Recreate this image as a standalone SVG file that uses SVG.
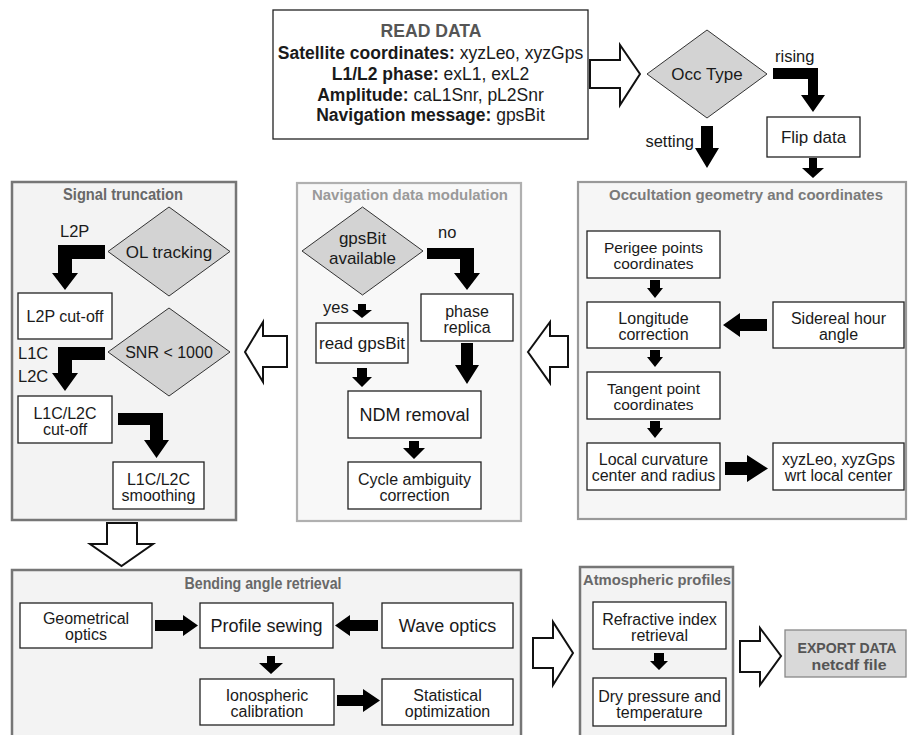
<svg xmlns="http://www.w3.org/2000/svg" width="908" height="735" viewBox="0 0 908 735">
<style>
text{font-family:"Liberation Sans",Arial,sans-serif;fill:#1a1a1a}
.box{fill:#fff;stroke:#222;stroke-width:1.3}
.dia{fill:#d3d3d3;stroke:#333;stroke-width:1}
.panel{fill:#f3f3f3;stroke:#767676;stroke-width:2.5}
.panel2{fill:#f8f8f8;stroke:#b0b0b0;stroke-width:2.2}
.panel3{fill:#f6f6f6;stroke:#999;stroke-width:2.2}
.arr{fill:#000}
.open{fill:#fff;stroke:#111;stroke-width:2}
.m{text-anchor:middle}
.s15{font-size:15.5px}
.s16{font-size:16px}
.s17{font-size:17px}
.s18{font-size:18px}
.ttl{font-weight:bold;fill:#686868;text-anchor:middle}
.lbl{font-size:16.5px}
</style>
<rect width="908" height="735" fill="#fff"/>

<!-- panels -->
<g id="panel-signal"><rect class="panel" x="12" y="182" width="224" height="338"/><text class="ttl" x="123" y="200" font-size="16" textLength="120" lengthAdjust="spacingAndGlyphs">Signal truncation</text></g>
<g id="panel-ndm"><rect class="panel2" x="297" y="183" width="224" height="338"/><text class="ttl" x="410" y="200" font-size="15.5" textLength="196" lengthAdjust="spacingAndGlyphs" style="fill:#9a9a9a">Navigation data modulation</text></g>
<g id="panel-occ"><rect class="panel3" x="578" y="182" width="328" height="337"/><text class="ttl" x="746" y="200" font-size="15" textLength="274" lengthAdjust="spacingAndGlyphs" style="fill:#7a7a7a">Occultation geometry and coordinates</text></g>
<g id="panel-bend"><rect class="panel" x="12" y="570" width="509" height="175"/><text class="ttl" x="263" y="589" font-size="16" textLength="157" lengthAdjust="spacingAndGlyphs">Bending angle retrieval</text></g>
<g id="panel-atm"><rect class="panel" x="580" y="567" width="153" height="178"/><text class="ttl" x="657" y="585" font-size="14.5" textLength="148" lengthAdjust="spacingAndGlyphs">Atmospheric profiles</text></g>

<!-- nodes -->
<g id="read-data"><rect class="box" x="273" y="10" width="315" height="129"/>
<text class="m" x="431" y="37" font-size="17.5" font-weight="bold" style="fill:#555" textLength="101" lengthAdjust="spacingAndGlyphs">READ DATA</text>
<text class="m" x="430.5" y="59" font-size="17.5"><tspan font-weight="bold">Satellite coordinates:</tspan> xyzLeo, xyzGps</text>
<text class="m" x="430.5" y="80" font-size="17.5"><tspan font-weight="bold">L1/L2 phase:</tspan> exL1, exL2</text>
<text class="m" x="430.5" y="101" font-size="17.5"><tspan font-weight="bold">Amplitude:</tspan> caL1Snr, pL2Snr</text>
<text class="m" x="430.5" y="121" font-size="17.5"><tspan font-weight="bold">Navigation message:</tspan> gpsBit</text></g>

<g id="occ-type"><polygon class="dia" points="647,74 707,30 767,74 707,118"/><text class="m s17" x="707" y="80">Occ Type</text></g>
<g id="flip-data"><rect class="box" x="767" y="117" width="93" height="40"/><text class="m s17" x="813.5" y="143">Flip data</text></g>

<g id="ol-tracking"><polygon class="dia" points="108,251.5 169,207 230,251.5 169,296"/><text class="m s17" x="169" y="257.5">OL tracking</text></g>
<g id="l2p-cutoff"><rect class="box" x="18" y="293" width="94" height="46"/><text class="m s16" x="65" y="322">L2P cut-off</text></g>
<g id="snr"><polygon class="dia" points="108,352 169,308 230,352 169,396"/><text class="m s16" x="169" y="358">SNR &lt; 1000</text></g>
<g id="l1c-cutoff"><rect class="box" x="18" y="396" width="94" height="47"/><text class="m s16" x="65" y="419">L1C/L2C</text><text class="m s16" x="65" y="435">cut-off</text></g>
<g id="l1c-smooth"><rect class="box" x="113" y="462" width="91" height="47"/><text class="m s16" x="158.5" y="485">L1C/L2C</text><text class="m s16" x="158.5" y="501">smoothing</text></g>

<g id="gpsbit-avail"><polygon class="dia" points="302,251 362.5,207 423,251 362.5,295"/><text class="m s17" x="362.5" y="244">gpsBit</text><text class="m s17" x="362.5" y="264">available</text></g>
<g id="phase-replica"><rect class="box" x="421" y="294" width="92" height="47"/><text class="m s16" x="467" y="317">phase</text><text class="m s16" x="467" y="333">replica</text></g>
<g id="read-gpsbit"><rect class="box" x="316" y="323" width="92" height="40"/><text class="m s17" x="362" y="349">read gpsBit</text></g>
<g id="ndm-removal"><rect class="box" x="348" y="391" width="133" height="47"/><text class="m s18" x="414.5" y="421">NDM removal</text></g>
<g id="cycle-amb"><rect class="box" x="348" y="462" width="133" height="47"/><text class="m s16" x="414.5" y="485">Cycle ambiguity</text><text class="m s16" x="414.5" y="501">correction</text></g>

<g id="perigee"><rect class="box" x="587" y="231" width="133" height="47"/><text class="m s15" x="653.5" y="253">Perigee points</text><text class="m s15" x="653.5" y="269">coordinates</text></g>
<g id="longitude"><rect class="box" x="587" y="302" width="133" height="46"/><text class="m s16" x="653.5" y="324">Longitude</text><text class="m s16" x="653.5" y="340">correction</text></g>
<g id="sidereal"><rect class="box" x="773" y="302" width="131" height="46"/><text class="m s16" x="838.5" y="324">Sidereal hour</text><text class="m s16" x="838.5" y="340">angle</text></g>
<g id="tangent"><rect class="box" x="587" y="372" width="133" height="47"/><text class="m s15" x="653.5" y="394">Tangent point</text><text class="m s15" x="653.5" y="410">coordinates</text></g>
<g id="local-curv"><rect class="box" x="587" y="443" width="133" height="47"/><text class="m s16" x="653.5" y="465">Local curvature</text><text class="m s16" x="653.5" y="481">center and radius</text></g>
<g id="xyz-local"><rect class="box" x="773" y="443" width="131" height="47"/><text class="m s16" x="838.5" y="465">xyzLeo, xyzGps</text><text class="m s16" x="838.5" y="481">wrt local center</text></g>

<g id="geometrical"><rect class="box" x="20" y="603" width="132" height="45"/><text class="m s16" x="86" y="624">Geometrical</text><text class="m s16" x="86" y="640">optics</text></g>
<g id="profile-sewing"><rect class="box" x="200" y="603" width="133" height="45"/><text class="m s18" x="266.5" y="632">Profile sewing</text></g>
<g id="wave-optics"><rect class="box" x="382" y="603" width="131" height="45"/><text class="m s18" x="447.5" y="632">Wave optics</text></g>
<g id="ionospheric"><rect class="box" x="200" y="679" width="134" height="46"/><text class="m s16" x="267" y="701">Ionospheric</text><text class="m s16" x="267" y="717">calibration</text></g>
<g id="statistical"><rect class="box" x="382" y="679" width="131" height="46"/><text class="m s16" x="447.5" y="701">Statistical</text><text class="m s16" x="447.5" y="717">optimization</text></g>

<g id="refractive"><rect class="box" x="593" y="602" width="133" height="47"/><text class="m s16" x="659.5" y="625">Refractive index</text><text class="m s16" x="659.5" y="641">retrieval</text></g>
<g id="dry-pressure"><rect class="box" x="593" y="678" width="133" height="48"/><text class="m s16" x="659.5" y="702">Dry pressure and</text><text class="m s16" x="659.5" y="718">temperature</text></g>

<g id="export"><rect x="785" y="630" width="121" height="47" fill="#d9d9d9" stroke="#888" stroke-width="1.3"/><text class="m" x="847" y="653" font-size="15.5" font-weight="bold" style="fill:#555" textLength="99" lengthAdjust="spacingAndGlyphs">EXPORT DATA</text><text class="m" x="849" y="670" font-size="15.5" font-weight="bold" style="fill:#555" textLength="75" lengthAdjust="spacingAndGlyphs">netcdf file</text></g>

<!-- connectors -->
<g id="connectors">
<polygon class="open" points="590,60 620,60 620,45 640,74 620,105 620,88 590,88"/>
<polygon class="arr" points="773,68 818,68 818,95 825,95 813,112 801,95 808,95 808,79 773,79"/>
<polygon class="arr" points="809,158 817,158 817,168 824,168 813,178 802,168 809,168"/>
<polygon class="arr" points="701,126 713,126 713,148 719,148 707,168 695,148 701,148"/>
<text class="lbl" x="775" y="62">rising</text>
<text class="lbl" x="694" y="147" text-anchor="end">setting</text>

<polygon class="arr" points="105,245 58,245 58,273 52,273 65,290 78,273 72,273 72,259 105,259"/>
<text class="lbl" x="60" y="237">L2P</text>
<polygon class="arr" points="105,347 58,347 58,373 52,373 65,391 78,373 72,373 72,360 105,360"/>
<text class="lbl" x="18" y="359">L1C</text>
<text class="lbl" x="18" y="382">L2C</text>
<polygon class="arr" points="118,413 163,413 163,440 169,440 156.5,458 144,440 150,440 150,425 118,425"/>

<polygon class="arr" points="427,248 474,248 474,273 480,273 467,290 454,273 460,273 460,259 427,259"/>
<text class="lbl" x="438" y="238">no</text>
<polygon class="arr" points="358,304 366,304 366,310 372,310 362,318 352,310 358,310"/>
<text class="lbl" x="323" y="313">yes</text>
<polygon class="arr" points="461,343 473,343 473,365 479,365 467,384 455,365 461,365"/>
<polygon class="arr" points="357,368 367,368 367,377 372,377 362,387 352,377 357,377"/>
<polygon class="arr" points="409,441 419,441 419,448 425,448 414,459 403,448 409,448"/>

<polygon class="arr" points="650,280 660,280 660,288 663,288 655,298 647,288 650,288"/>
<polygon class="arr" points="767,319 740,319 740,313 723,325 740,337 740,331 767,331"/>
<polygon class="arr" points="650,350 660,350 660,357 663,357 655,367 647,357 650,357"/>
<polygon class="arr" points="650,421 660,421 660,428 663,428 655,438 647,428 650,428"/>
<polygon class="arr" points="725,462 747,462 747,455 768,468.5 747,482 747,475 725,475"/>

<polygon class="open" points="287,336 263,336 263,322 245,352 263,382 263,367 287,367"/>
<polygon class="open" points="568,336 550,336 550,322 528,352 550,383 550,367 568,367"/>
<polygon class="open" points="107,523 137,523 137,544 153,544 121.5,566 90,544 107,544"/>

<polygon class="arr" points="155,620 183,620 183,615 198,625.5 183,636 183,631 155,631"/>
<polygon class="arr" points="378,620 350,620 350,615 335,625.5 350,636 350,631 378,631"/>
<polygon class="arr" points="267,656 275,656 275,663 283,663 271,674 259,663 267,663"/>
<polygon class="arr" points="337,695 363,695 363,689 380,700.5 363,712 363,706 337,706"/>
<polygon class="arr" points="654,653 664,653 664,661 668,661 659,670 650,661 654,661"/>

<polygon class="open" points="533,638 553,638 553,622 573,653 553,685 553,668 533,668"/>
<polygon class="open" points="740,641 760,641 760,628 781,656 760,685 760,672 740,672"/>
</g>
</svg>
